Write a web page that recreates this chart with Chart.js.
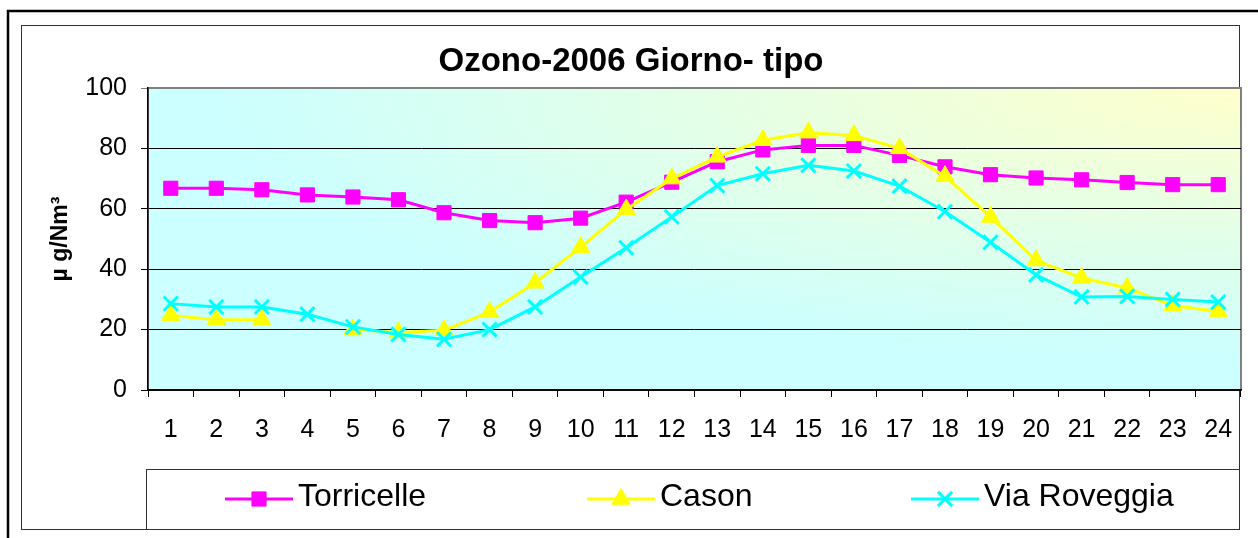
<!DOCTYPE html>
<html>
<head>
<meta charset="utf-8">
<script src="https://cdn.jsdelivr.net/npm/chart.js@4/dist/chart.umd.js"></script>
<style>
  body { margin: 0; background: #fff; }
  canvas { display: block; }
</style>
</head>
<body>
<canvas id="myChart" width="1258" height="538"></canvas>
<script>
// data
const hours = ['1','2','3','4','5','6','7','8','9','10','11','12','13','14','15','16','17','18','19','20','21','22','23','24'];
const torricelle = [66.8, 66.8, 66.3, 64.6, 63.9, 63.0, 58.7, 56.1, 55.4, 56.9, 62.2, 68.8, 75.6, 79.5, 81.0, 81.0, 77.7, 73.9, 71.3, 70.2, 69.6, 68.7, 68.0, 68.0];
const cason = [24.7, 23.3, 23.3, null, 20.0, 19.0, 19.8, 25.8, 35.5, 47.3, 59.8, 70.0, 77.2, 82.7, 85.2, 84.3, 80.0, 70.8, 57.3, 42.9, 37.1, 33.8, 28.0, 26.0];
const viaRoveggia = [28.6, 27.5, 27.5, 25.1, 20.9, 18.4, 16.8, 20.0, 27.5, 37.4, 47.1, 57.3, 67.7, 71.6, 74.4, 72.5, 67.5, 59.1, 48.9, 38.1, 30.8, 31.0, 30.0, 29.1];
const yTicks = [0, 20, 40, 60, 80, 100];
const chartTitle = 'Ozono-2006 Giorno- tipo';
const yTitle = 'µ g/Nm³';

const FONT = '"Liberation Sans", Arial, sans-serif';
Chart.defaults.font.family = FONT;
Chart.defaults.color = '#000';

// frame, plot background and title
const framePlugin = {
  id: 'frame',
  beforeDraw(chart) {
    const ctx = chart.ctx;
    const a = chart.chartArea;
    ctx.save();
    ctx.fillStyle = '#fff';
    ctx.fillRect(0, 0, chart.width, chart.height);
    ctx.strokeStyle = '#000';
    ctx.lineWidth = 2.5;
    ctx.strokeRect(8, 11, 1300, 600);
    ctx.lineWidth = 1;
    ctx.strokeStyle = '#333';
    ctx.strokeRect(21.5, 25.5, 1218, 504);

    // gradient from the top right corner
    ctx.save();
    ctx.beginPath();
    ctx.rect(a.left, a.top, a.right - a.left, a.bottom - a.top);
    ctx.clip();
    ctx.translate(a.right, a.top);
    ctx.scale(3.8, 1);
    const g = ctx.createRadialGradient(0, 0, 0, 0, 0, 270);
    g.addColorStop(0, '#ffffcc');
    g.addColorStop(1, '#ccffff');
    ctx.fillStyle = g;
    ctx.fillRect(-400, -10, 410, 420);
    ctx.restore();

    ctx.strokeStyle = '#808080';
    ctx.lineWidth = 2;
    ctx.strokeRect(a.left, a.top, a.right - a.left, a.bottom - a.top);

    ctx.fillStyle = '#000';
    ctx.font = 'bold 33px ' + FONT;
    ctx.textAlign = 'center';
    ctx.textBaseline = 'middle';
    ctx.fillText(chartTitle, 631, 62);
    ctx.restore();
  },
  afterDraw(chart) {
    // legend box below the axis
    const ctx = chart.ctx;
    const legendX = [225, 587, 911];
    const y = 499;
    ctx.save();
    ctx.strokeStyle = '#333';
    ctx.lineWidth = 1;
    ctx.strokeRect(146.5, 469.5, 1093, 60);
    chart.data.datasets.forEach((ds, i) => {
      const x0 = legendX[i];
      ctx.strokeStyle = ds.borderColor;
      ctx.lineWidth = ds.borderWidth;
      ctx.beginPath();
      ctx.moveTo(x0, y);
      ctx.lineTo(x0 + 68, y);
      ctx.stroke();
      ctx.fillStyle = ds.backgroundColor;
      ctx.lineWidth = ds.pointBorderWidth;
      Chart.helpers.drawPoint(ctx, {
        pointStyle: ds.pointStyle,
        radius: ds.pointRadius,
        borderWidth: ds.pointBorderWidth,
        rotation: 0
      }, x0 + 34, y);
      ctx.fillStyle = '#000';
      ctx.font = '32px ' + FONT;
      ctx.textAlign = 'left';
      ctx.textBaseline = 'middle';
      ctx.fillText(ds.label, x0 + 73, y - 2);
    });
    ctx.restore();
  }
};

const ctx = document.getElementById('myChart').getContext('2d');
new Chart(ctx, {
  type: 'line',
  data: {
    labels: hours,
    datasets: [
      {
        label: 'Torricelle',
        data: torricelle,
        borderColor: '#ff00ff',
        backgroundColor: '#ff00ff',
        pointStyle: 'rect',
        pointRadius: 10,
        pointBorderWidth: 1,
        borderWidth: 3,
        order: 3
      },
      {
        label: 'Cason',
        data: cason,
        borderColor: '#ffff00',
        backgroundColor: '#ffff00',
        pointStyle: 'triangle',
        pointRadius: 10.5,
        pointBorderWidth: 1,
        borderWidth: 3,
        spanGaps: false,
        order: 2
      },
      {
        label: 'Via Roveggia',
        data: viaRoveggia,
        borderColor: '#00ffff',
        backgroundColor: '#00ffff',
        pointStyle: 'crossRot',
        pointRadius: 10,
        pointBorderWidth: 3,
        borderWidth: 3,
        order: 1
      }
    ]
  },
  options: {
    responsive: false,
    animation: false,
    devicePixelRatio: 1,
    layout: { padding: { top: 88, right: 17, left: 0, bottom: 0 } },
    plugins: {
      legend: { display: false },
      tooltip: { enabled: false },
      title: { display: false }
    },
    scales: {
      x: {
        offset: true,
        ticks: { padding: 18, font: { size: 25 }, color: '#000', maxRotation: 0, autoSkip: false },
        grid: { offset: true, drawOnChartArea: false, tickLength: 7, color: '#000' },
        border: { color: '#000', width: 1.5 },
        afterFit(scale) { scale.height = 148; }
      },
      y: {
        min: 0,
        max: 100,
        afterBuildTicks(scale) { scale.ticks = yTicks.map(v => ({ value: v })); },
        ticks: { padding: 14, font: { size: 25 }, color: '#000' },
        grid: {
          color: c => (c.tick && c.tick.value === 100) ? '#808080' : '#000',
          tickLength: 7,
          lineWidth: 1
        },
        border: { color: '#000', width: 1.5 },
        title: {
          display: true,
          text: yTitle,
          color: '#000',
          font: { size: 23, weight: 'bold' },
          padding: { top: 47, bottom: 0 }
        },
        afterFit(scale) { scale.width = 148; }
      }
    }
  },
  plugins: [framePlugin]
});
</script>
</body>
</html>
